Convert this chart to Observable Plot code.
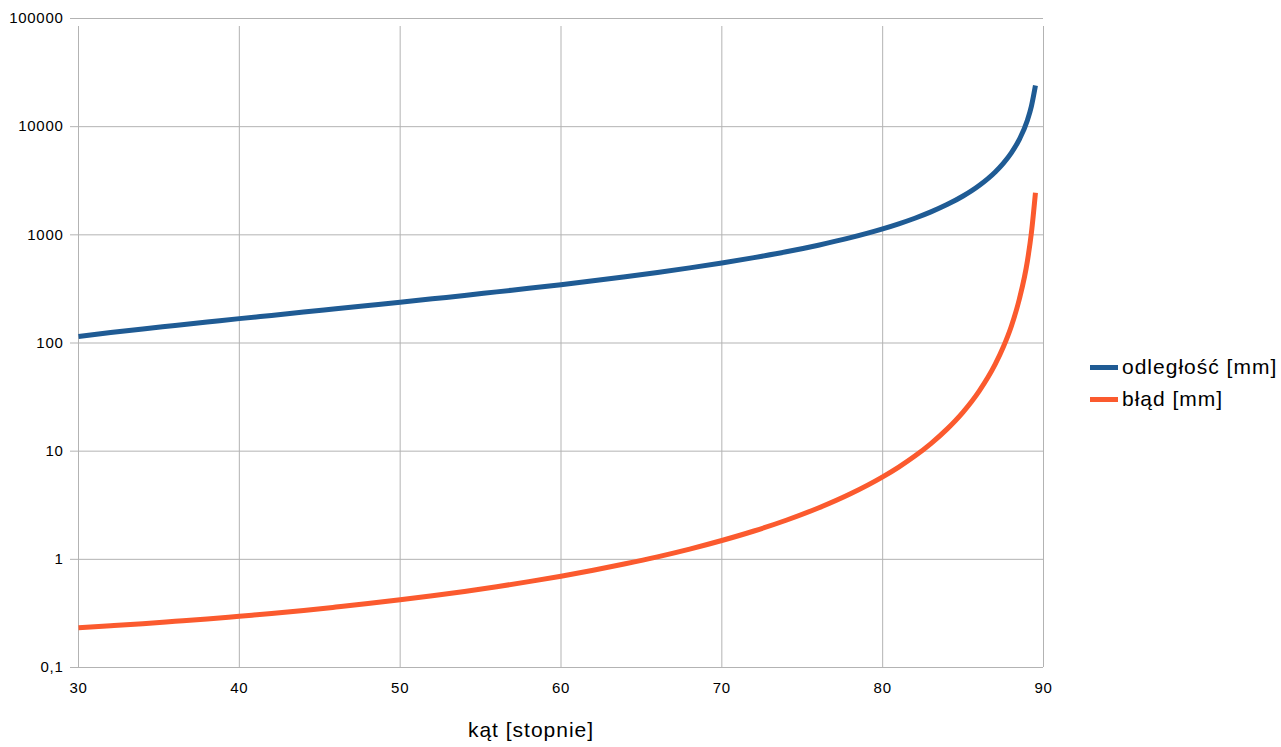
<!DOCTYPE html>
<html>
<head>
<meta charset="utf-8">
<script src="https://cdn.jsdelivr.net/npm/d3@7"></script>
<script src="https://cdn.jsdelivr.net/npm/@observablehq/plot@0.6"></script>
<style>
  body { margin: 0; background: #fff; font-family: "Liberation Sans", Arial, sans-serif; }
  #wrap { position: relative; width: 1281px; height: 747px; }
  #xtitle { position: absolute; left: 431px; width: 200px; text-align: center; top: 718px; font-size: 21px; letter-spacing: 1px; color: #000; }
  #legend { position: absolute; left: 1090px; top: 351px; font-size: 21px; letter-spacing: 1px; color: #000; }
  .li { display: flex; align-items: center; height: 32px; }
  .sw { width: 28px; height: 5px; margin-right: 4px; }
</style>
</head>
<body>
<div id="wrap">
  <div id="chart"></div>
  <div id="xtitle">kąt [stopnie]</div>
  <div id="legend"></div>
</div>
<script>
const angles = [30,32,34,36,38,40,42,44,46,48,50,52,54,56,58,60,62,64,66,68,70,72,74,76,78,80,81,82,83,84,85,86,87,87.5,88,88.5,89,89.25,89.5];
const distance = [115,125,135,145,156,168,180,193,207,222,238,256,275,297,320,346,376,410,449,495,549,616,697,802,941,1134,1263,1423,1629,1903,2286,2860,3816,4581,5727,7638,11458,15500,24000];
const error = [0.233,0.243,0.254,0.267,0.281,0.298,0.316,0.337,0.362,0.390,0.423,0.461,0.505,0.558,0.622,0.698,0.792,0.909,1.055,1.244,1.493,1.828,2.298,2.983,4.039,5.79,7.13,9.01,11.76,15.98,22.98,35.9,63.7,91.8,143,255,573,1050,2450];
const seriesNames = ["odległość [mm]", "błąd [mm]"];
const seriesColors = ["#1f5b94", "#fb5a2e"];
const xTicks = [30,40,50,60,70,80,90];
const yTicks = [0.1,1,10,100,1000,10000,100000];
const yTickLabels = ["0,1","1","10","100","1000","10000","100000"];

const rows = [];
angles.forEach((a, i) => {
  rows.push({angle: a, value: distance[i], series: seriesNames[0]});
  rows.push({angle: a, value: error[i], series: seriesNames[1]});
});

const chart = Plot.plot({
  width: 1281,
  height: 747,
  marginLeft: 78,
  marginRight: 238,
  marginTop: 18,
  marginBottom: 80,
  style: {fontFamily: "'Liberation Sans', Arial, sans-serif", fontSize: "15px", color: "#000", background: "#fff"},
  x: {type: "linear", domain: [30, 90], axis: null},
  y: {type: "log", domain: [0.1, 100000], axis: null},
  color: {domain: seriesNames, range: seriesColors},
  marks: [
    Plot.ruleX(xTicks, {x: d => d, stroke: "#b3b3b3", strokeWidth: 1, strokeOpacity: 1, y1: 0.1, y2: 100000, insetBottom: -8}),
    Plot.ruleY(yTicks, {y: d => d, stroke: "#b3b3b3", strokeWidth: 1, strokeOpacity: 1, insetLeft: -8}),
    Plot.text(xTicks, {x: d => d, y: 0.1, text: d => String(d), dy: 21, fontSize: 15, fill: "#000", textAnchor: "middle"}),
    Plot.text(yTicks, {x: 30, y: d => d, text: (d, i) => yTickLabels[i], dx: -15, fontSize: 15, fill: "#000", textAnchor: "end"}),
    Plot.line(rows, {x: "angle", y: "value", z: "series", stroke: "series", strokeWidth: 5, curve: "monotone-x", strokeLinecap: "butt"})
  ]
});
d3.select(chart).selectAll("text").attr("letter-spacing", "0.7");
document.getElementById("chart").appendChild(chart);

const leg = document.getElementById("legend");
seriesNames.forEach((n, i) => {
  const row = document.createElement("div");
  row.className = "li";
  const sw = document.createElement("div");
  sw.className = "sw";
  sw.style.background = seriesColors[i];
  const t = document.createElement("span");
  t.textContent = n;
  row.appendChild(sw); row.appendChild(t);
  leg.appendChild(row);
});
</script>
</body>
</html>
